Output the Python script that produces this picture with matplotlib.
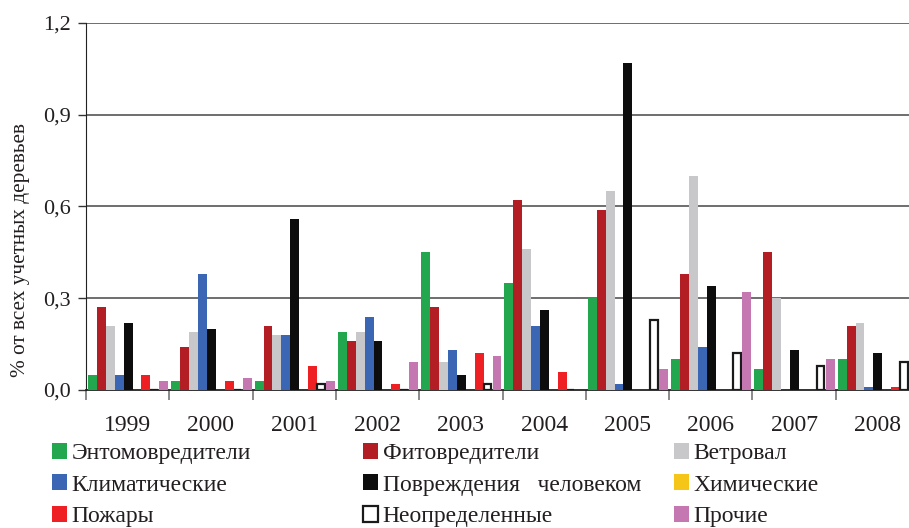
import matplotlib
matplotlib.use('Agg')
import matplotlib.pyplot as plt
from matplotlib.ticker import FixedLocator

plt.rcParams['font.family'] = ['Liberation Serif', 'DejaVu Serif']

years = ['1999', '2000', '2001', '2002', '2003', '2004', '2005', '2006', '2007', '2008']

# damage causes, % of all inventoried trees
entomo  = [0.05, 0.03, 0.03, 0.19, 0.45, 0.35, 0.30, 0.10, 0.07, 0.10]
phyto   = [0.27, 0.14, 0.21, 0.16, 0.27, 0.62, 0.59, 0.38, 0.45, 0.21]
windfall = [0.21, 0.19, 0.18, 0.19, 0.09, 0.46, 0.65, 0.70, 0.30, 0.22]
climate = [0.05, 0.38, 0.18, 0.24, 0.13, 0.21, 0.02, 0.14, 0.00, 0.01]
human   = [0.22, 0.20, 0.56, 0.16, 0.05, 0.26, 1.07, 0.34, 0.13, 0.12]
chemical = [0.00, 0.00, 0.00, 0.00, 0.00, 0.00, 0.00, 0.00, 0.00, 0.00]
fires   = [0.05, 0.03, 0.08, 0.02, 0.12, 0.06, 0.00, 0.00, 0.00, 0.01]
unknown = [0.00, 0.00, 0.02, 0.00, 0.02, 0.00, 0.23, 0.12, 0.08, 0.09]
other   = [0.03, 0.04, 0.03, 0.09, 0.11, 0.00, 0.07, 0.32, 0.10, 0.00]

series = [
    ('Энтомовредители', entomo, '#22a64e'),
    ('Фитовредители', phyto, '#b31e24'),
    ('Ветровал', windfall, '#c8c8ca'),
    ('Климатические', climate, '#3a66b3'),
    ('Повреждения   человеком', human, '#0d0d0d'),
    ('Химические', chemical, '#f5c518'),
    ('Пожары', fires, '#ee2024'),
    ('Неопределенные', unknown, 'white'),
    ('Прочие', other, '#c477b0'),
]

fig = plt.figure(figsize=(9.09, 5.28), dpi=100)
ax = fig.add_axes([86 / 909, 1 - 390 / 528, 833 / 909, 367 / 528])

bar_w = 0.107
handles = {}
for i, (name, vals, color) in enumerate(series):
    xs = [g + 0.024 + i * bar_w for g in range(len(years))]
    if name == 'Неопределенные':
        bc = ax.bar(xs, vals, bar_w * 0.85, align='edge', color='white',
                    edgecolor='#1a1a1a', linewidth=1.6, zorder=3)
    else:
        bc = ax.bar(xs, vals, bar_w, align='edge', color=color,
                    linewidth=0, zorder=3)
    handles[name] = bc

ax.set_xlim(0, 10)
ax.set_ylim(0, 1.2)

ax.set_yticks([0, 0.3, 0.6, 0.9, 1.2])
ax.set_yticklabels(['0,0', '0,3', '0,6', '0,9', '1,2'], fontsize=16, color='#231f20')
ax.tick_params(axis='y', direction='out', length=6, width=1, color='#333333', pad=5)

ax.set_xticks([g + 0.5 for g in range(len(years))])
ax.set_xticklabels(years, fontsize=17, color='#231f20')
ax.tick_params(axis='x', which='major', length=0, pad=18)
ax.xaxis.set_minor_locator(FixedLocator(range(0, 11)))
ax.tick_params(axis='x', which='minor', direction='out', length=7, width=1.2, color='#777777')

for yv in [0.3, 0.6, 0.9, 1.2]:
    ax.axhline(yv, color='#555555', linewidth=1.2, zorder=1)

for side in ['top', 'right']:
    ax.spines[side].set_visible(False)
ax.spines['left'].set_color('#222222')
ax.spines['bottom'].set_color('#222222')
ax.spines['bottom'].set_linewidth(1.3)

fig.text(21 / 909, 1 - 250 / 528, '% от всех учетных деревьев', rotation=90,
         ha='center', va='center', fontsize=15.3, color='#231f20')

# legend laid out as three single-column blocks
columns = [
    (['Энтомовредители', 'Климатические', 'Пожары'], 52),
    (['Фитовредители', 'Повреждения   человеком', 'Неопределенные'], 363),
    (['Ветровал', 'Химические', 'Прочие'], 674),
]
for names, xpix in columns:
    fig.legend([handles[n] for n in names], names, loc='upper left',
               bbox_to_anchor=(xpix / 909, 1 - 443 / 528), frameon=False,
               fontsize=17, handlelength=0.64, handleheight=0.64,
               handletextpad=0.2, labelspacing=0.44, borderpad=0,
               borderaxespad=0, labelcolor='#231f20')

fig.savefig('out.png', dpi=100)
